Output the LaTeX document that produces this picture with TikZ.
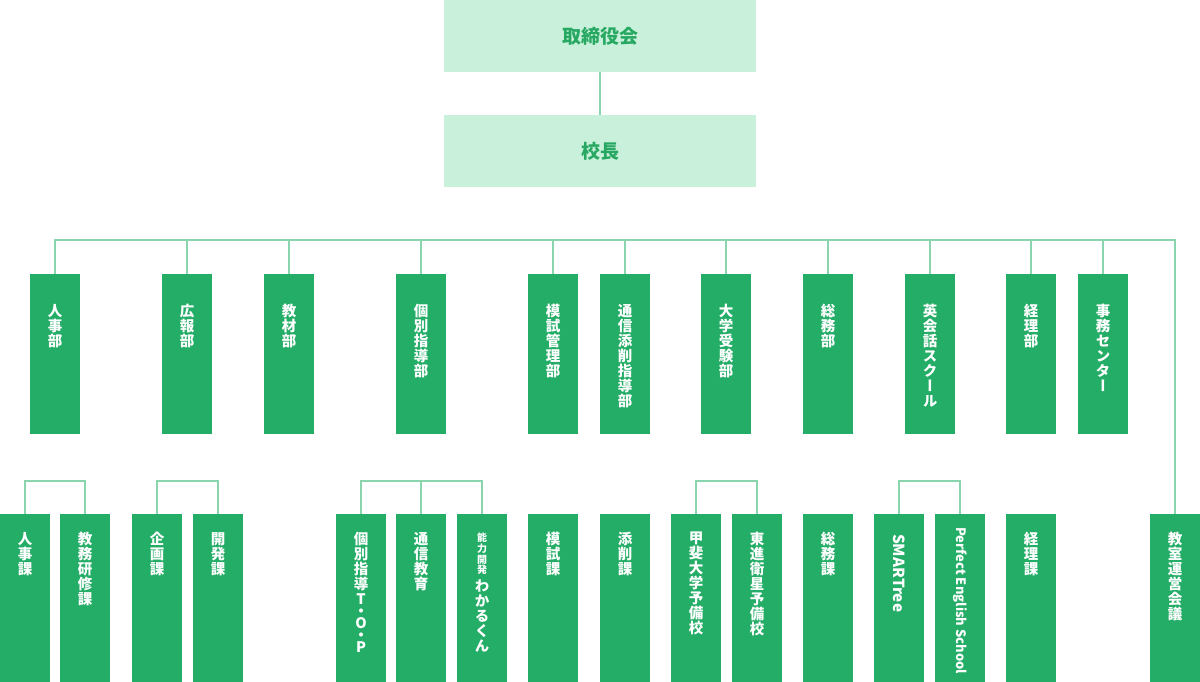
\documentclass[tikz,border=0pt]{standalone}
\usepackage{fontspec}
\usepackage{tikz}
\usetikzlibrary{positioning}
\newfontfamily\jpfont{Noto Sans CJK JP}[RawFeature=+vert]
\definecolor{leaf}{HTML}{24AD66}
\definecolor{mint}{HTML}{C8F0DA}
\definecolor{mintink}{HTML}{27A862}
\definecolor{stemgreen}{HTML}{8AD5AE}

\begin{document}
\begin{tikzpicture}[
 x=1pt,y=-1pt,
 board/.style={fill=mint,text=mintink,minimum width=312,minimum height=72,inner sep=0,font=\jpfont\fontsize{19}{19}\selectfont\bfseries},
 dept/.style={fill=leaf,minimum width=50,minimum height=160,inner sep=0,anchor=north},
 sect/.style={fill=leaf,minimum width=50,minimum height=168,inner sep=0,anchor=north},
 vtext/.style={text=white,align=center,inner sep=0,anchor=north,font=\jpfont\fontsize{14.5}{15}\selectfont\bfseries},
 smalltext/.style={vtext,font=\jpfont\fontsize{10}{10.7}\selectfont\bfseries},
 rtext/.style={text=white,inner sep=0,rotate=-90,font=\jpfont\fontsize{14}{14}\selectfont\bfseries},
 stem/.style={draw=stemgreen,line width=1.5},
]
\useasboundingbox (0,0) rectangle (1200,682);
\node[board] (board) at (600,36) {取締役会};
\node[board] (principal) at (600,151) {校長};
\draw[stem] (board) -- (principal);

\node[dept] (hr) at (55,274) {};
\node[vtext,below=30pt of hr.north] (hrt) {人\\事\\部};
\node[dept] (pr) at (187,274) {};
\node[vtext,below=30pt of pr.north] (prt) {広\\報\\部};
\node[dept] (mat) at (289,274) {};
\node[vtext,below=30pt of mat.north] (matt) {教\\材\\部};
\node[dept] (indiv) at (421,274) {};
\node[vtext,below=30pt of indiv.north] (indivt) {個\\別\\指\\導\\部};
\node[dept] (mock) at (553,274) {};
\node[vtext,below=30pt of mock.north] (mockt) {模\\試\\管\\理\\部};
\node[dept] (corr) at (625,274) {};
\node[vtext,below=30pt of corr.north] (corrt) {通\\信\\添\\削\\指\\導\\部};
\node[dept] (exam) at (726,274) {};
\node[vtext,below=30pt of exam.north] (examt) {大\\学\\受\\験\\部};
\node[dept] (gen) at (828,274) {};
\node[vtext,below=30pt of gen.north] (gent) {総\\務\\部};
\node[dept] (eng) at (930,274) {};
\node[vtext,below=30pt of eng.north] (engt) {英\\会\\話\\ス\\ク\\ー\\ル};
\node[dept] (acct) at (1031,274) {};
\node[vtext,below=30pt of acct.north] (acctt) {経\\理\\部};
\node[dept] (office) at (1103,274) {};
\node[vtext,below=30pt of office.north] (officet) {事\\務\\セ\\ン\\タ\\ー};

\node[sect] (hrsec) at (25,514) {};
\node[vtext,below=18pt of hrsec.north] (hrsect) {人\\事\\課};
\node[sect] (train) at (85,514) {};
\node[vtext,below=18pt of train.north] (traint) {教\\務\\研\\修\\課};
\node[sect] (plan) at (157,514) {};
\node[vtext,below=18pt of plan.north] (plant) {企\\画\\課};
\node[sect] (dev) at (218,514) {};
\node[vtext,below=18pt of dev.north] (devt) {開\\発\\課};
\node[sect] (top) at (361,514) {};
\node[vtext,below=18pt of top.north] (topt) {個\\別\\指\\導\\T\\[-3pt]・\\[-3pt]O\\[-3pt]・\\[-3pt]P};
\node[sect] (tsushin) at (421,514) {};
\node[vtext,below=18pt of tsushin.north] (tsushint) {通\\信\\教\\育};
\node[sect] (wakaru) at (482,514) {};
\node[smalltext,below=19pt of wakaru.north] (nokt) {能\\力\\開\\発};
\node[vtext,below=4pt of nokt] (wakarut) {わ\\か\\る\\く\\ん};
\node[sect] (mocksec) at (553,514) {};
\node[vtext,below=18pt of mocksec.north] (mocksect) {模\\試\\課};
\node[sect] (tensaku) at (625,514) {};
\node[vtext,below=18pt of tensaku.north] (tensakut) {添\\削\\課};
\node[sect] (kai) at (696,514) {};
\node[vtext,below=18pt of kai.north] (kait) {甲\\斐\\大\\学\\予\\備\\校};
\node[sect] (toshin) at (757,514) {};
\node[vtext,below=18pt of toshin.north] (toshint) {東\\進\\衛\\星\\予\\備\\校};
\node[sect] (gensec) at (828,514) {};
\node[vtext,below=18pt of gensec.north] (gensect) {総\\務\\課};
\node[sect] (smart) at (899,514) {};
\node[rtext,below=20pt of smart.north,anchor=west,font=\jpfont\fontsize{15.3}{15.3}\selectfont\bfseries] (smartt) {SMARTree};
\node[sect] (pes) at (960,514) {};
\node[rtext,below=13pt of pes.north,anchor=west,font=\jpfont\fontsize{13}{13}\selectfont\bfseries] (pest) {Perfect English School};
\node[sect] (acctsec) at (1031,514) {};
\node[vtext,below=18pt of acctsec.north] (acctsect) {経\\理\\課};
\node[sect] (meeting) at (1175,514) {};
\node[vtext,below=18pt of meeting.north] (meetingt) {教\\室\\運\\営\\会\\議};

\coordinate (bus) at (600,240);
\draw[stem] (hr.north) -- (hr.north |- bus) -- (meeting.north |- bus) -- (meeting.north);
\draw[stem] (pr.north) -- (pr.north |- bus) (mat.north) -- (mat.north |- bus)
 (indiv.north) -- (indiv.north |- bus) (mock.north) -- (mock.north |- bus)
 (corr.north) -- (corr.north |- bus) (exam.north) -- (exam.north |- bus)
 (gen.north) -- (gen.north |- bus) (eng.north) -- (eng.north |- bus)
 (acct.north) -- (acct.north |- bus) (office.north) -- (office.north |- bus);

\draw[stem] (hrsec.north) -- ++(0,-33) -| (train.north);
\draw[stem] (plan.north) -- ++(0,-33) -| (dev.north);
\draw[stem] (top.north) -- ++(0,-33) -| (wakaru.north) (tsushin.north) -- ++(0,-33);
\draw[stem] (kai.north) -- ++(0,-33) -| (toshin.north);
\draw[stem] (smart.north) -- ++(0,-33) -| (pes.north);
\end{tikzpicture}
\end{document}
